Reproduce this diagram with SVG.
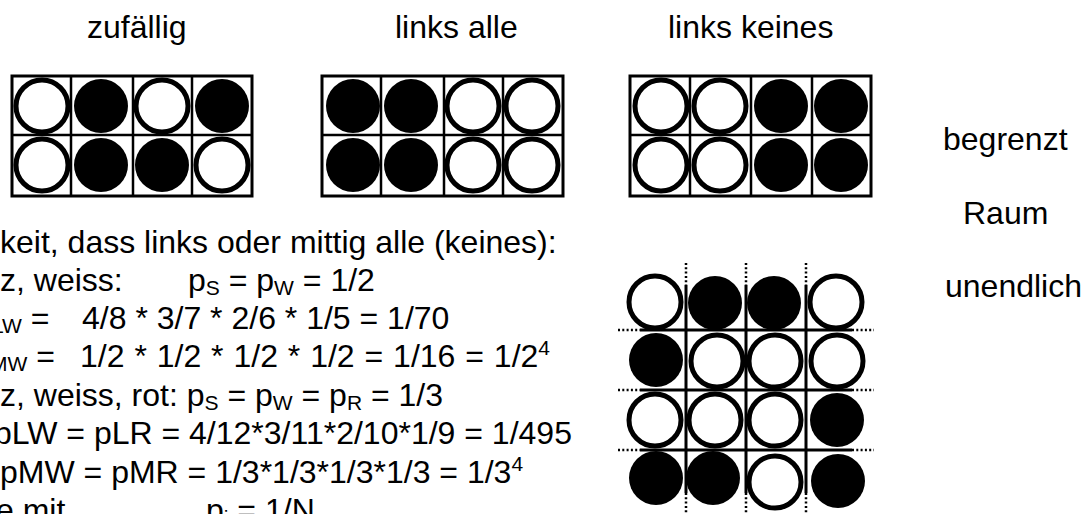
<svg xmlns="http://www.w3.org/2000/svg" width="1092" height="514" viewBox="0 0 1092 514">
<style>
text { font-family: "Liberation Sans", Arial, Helvetica, sans-serif; font-size: 32px; fill: #000; }
.sub { font-size: 21px; }
.b { fill: #000; }
.w { fill: #fff; stroke: #000; stroke-width: 5; }
.frame { fill: none; stroke: #000; stroke-width: 3; }
.ln { stroke: #000; stroke-width: 2.5; fill: none; }
.g4 { stroke: #000; stroke-width: 3; fill: none; }
.dot { stroke: #000; stroke-width: 2.5; stroke-dasharray: 2 2.3; fill: none; }
</style>
<rect width="1092" height="514" fill="#fff"/>

<g id="titles">
<text x="87" y="38">zufällig</text>
<text x="395" y="38">links alle</text>
<text x="668" y="38">links keines</text>
</g>

<g id="grid-zufaellig">
<rect class="frame" x="12" y="76" width="240" height="120"/>
<path class="ln" d="M71 76V196M133 76V196M192 76V196M12 135H252"/>
<circle class="w" cx="42" cy="106" r="26"/>
<circle class="b" cx="101" cy="106" r="27"/>
<circle class="w" cx="162" cy="106" r="26"/>
<circle class="b" cx="222" cy="106" r="27"/>
<circle class="w" cx="42" cy="165" r="26"/>
<circle class="b" cx="101" cy="165" r="27"/>
<circle class="b" cx="162" cy="165" r="27"/>
<circle class="w" cx="222" cy="165" r="26"/>
</g>

<g id="grid-links-alle">
<rect class="frame" x="322" y="76" width="241" height="120"/>
<path class="ln" d="M381 76V196M444 76V196M503 76V196M322 135H563"/>
<circle class="b" cx="353" cy="106" r="27"/>
<circle class="b" cx="411" cy="106" r="27"/>
<circle class="w" cx="473" cy="106" r="26"/>
<circle class="w" cx="532" cy="106" r="26"/>
<circle class="b" cx="353" cy="165" r="27"/>
<circle class="b" cx="411" cy="165" r="27"/>
<circle class="w" cx="473" cy="165" r="26"/>
<circle class="w" cx="532" cy="165" r="26"/>
</g>

<g id="grid-links-keines">
<rect class="frame" x="630" y="76" width="241" height="120"/>
<path class="ln" d="M690 76V196M751 76V196M812 76V196M630 135H871"/>
<circle class="w" cx="661" cy="106" r="26"/>
<circle class="w" cx="720" cy="106" r="26"/>
<circle class="b" cx="781" cy="106" r="27"/>
<circle class="b" cx="841" cy="106" r="27"/>
<circle class="w" cx="661" cy="165" r="26"/>
<circle class="w" cx="720" cy="165" r="26"/>
<circle class="b" cx="781" cy="165" r="27"/>
<circle class="b" cx="841" cy="165" r="27"/>
</g>

<g id="grid-raum">
<path class="g4" d="M686 285V493M746 285V493M806 285V493M640 330H852M640 390H852M640 450H852"/>
<path class="dot" d="M686 263V285M746 263V285M806 263V285M686 493V514M746 493V514M806 493V514M618 330H640M618 390H640M618 450H640M852 330H874M852 390H874M852 450H874"/>
<circle class="w" cx="655" cy="302" r="26"/>
<circle class="b" cx="715" cy="303" r="27"/>
<circle class="b" cx="774" cy="303" r="27"/>
<circle class="w" cx="836" cy="302" r="26"/>
<circle class="b" cx="656" cy="360" r="27"/>
<circle class="w" cx="717" cy="361" r="26"/>
<circle class="w" cx="775" cy="361" r="26"/>
<circle class="w" cx="837" cy="361" r="26"/>
<circle class="w" cx="655" cy="420" r="26"/>
<circle class="w" cx="715" cy="420" r="26"/>
<circle class="w" cx="775" cy="420" r="26"/>
<circle class="b" cx="837" cy="420" r="27"/>
<circle class="b" cx="656" cy="478" r="27"/>
<circle class="b" cx="713" cy="478" r="27"/>
<circle class="w" cx="775" cy="482" r="26"/>
<circle class="b" cx="838" cy="481" r="27"/>
</g>

<g id="side-labels">
<text x="943" y="150">begrenzt</text>
<text x="963" y="224">Raum</text>
<text x="945" y="297">unendlich</text>
</g>

<g id="formulas">
<text x="0" y="253">keit, dass links oder mittig alle (keines):</text>
<text x="0" y="291">z, weiss:</text>
<text x="188" y="291">p<tspan class="sub" dy="4">S</tspan><tspan dy="-4"> = p</tspan><tspan class="sub" dy="4">W</tspan><tspan dy="-4"> = 1/2</tspan></text>
<text x="-8" y="329"><tspan class="sub" dy="4">LW</tspan><tspan dy="-4"> =</tspan></text>
<text x="82" y="329">4/8 * 3/7 * 2/6 * 1/5 = 1/70</text>
<text x="-10" y="367"><tspan class="sub" dy="4">MW</tspan><tspan dy="-4"> =</tspan></text>
<text x="80" y="367" word-spacing="1">1/2 * 1/2 * 1/2 * 1/2 = 1/16 = 1/2<tspan class="sub" dy="-12">4</tspan></text>
<text x="0" y="406">z, weiss, rot: p<tspan class="sub" dy="4">S</tspan><tspan dy="-4"> = p</tspan><tspan class="sub" dy="4">W</tspan><tspan dy="-4"> = p</tspan><tspan class="sub" dy="4">R</tspan><tspan dy="-4"> = 1/3</tspan></text>
<text x="-6" y="444">pLW = pLR = 4/12*3/11*2/10*1/9 = 1/495</text>
<text x="0" y="483">pMW = pMR = 1/3*1/3*1/3*1/3 = 1/3<tspan class="sub" dy="-12">4</tspan></text>
<text x="-4" y="521">e mit</text>
<text x="206" y="521">p<tspan class="sub" dy="4">i</tspan><tspan dy="-4"> = 1/N</tspan></text>
</g>
</svg>
